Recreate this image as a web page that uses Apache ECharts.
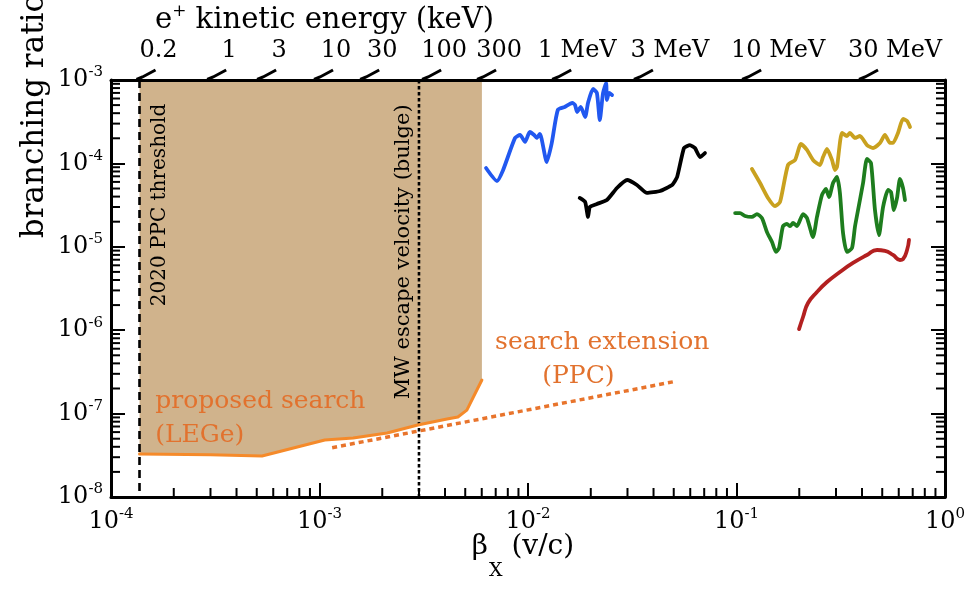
<!DOCTYPE html>
<html>
<head>
<meta charset="utf-8">
<script src="https://cdn.jsdelivr.net/npm/echarts@6/dist/echarts.min.js"></script>
<style>
  html, body { margin: 0; padding: 0; background: #ffffff; }
  #chart { width: 972px; height: 589px; }
</style>
</head>
<body>
<div id="chart"></div>
<script>
// Axis ranges: velocity beta_X (v/c) and branching ratio
const X_MIN = 1e-4, X_MAX = 1;
const Y_MIN = 1e-8, Y_MAX = 1e-3;

// Existing limits
const blueBeta = [6.29e-3, 7.10e-3, 7.59e-3, 8.67e-3, 9.16e-3, 9.68e-3, 1.02e-2, 1.07e-2, 1.10e-2, 1.14e-2,
                  1.23e-2, 1.30e-2, 1.39e-2, 1.50e-2, 1.63e-2, 1.68e-2, 1.72e-2, 1.79e-2, 1.88e-2, 1.94e-2,
                  2.05e-2, 2.14e-2, 2.21e-2, 2.29e-2, 2.37e-2, 2.39e-2, 2.45e-2, 2.53e-2];
const blueBR   = [8.8e-5, 6.15e-5, 8.3e-5, 2.02e-4, 2.19e-4, 1.81e-4, 2.38e-4, 2.19e-4, 2.02e-4, 2.26e-4,
                  1.04e-4, 1.76e-4, 4.37e-4, 4.75e-4, 5.30e-4, 5.02e-4, 4.13e-4, 4.75e-4, 3.60e-4, 5.30e-4,
                  7.80e-4, 6.98e-4, 3.31e-4, 6.98e-4, 9.2e-4, 5.76e-4, 6.98e-4, 6.61e-4];

const blackBeta = [1.77e-2, 1.88e-2, 1.94e-2, 1.98e-2, 2.14e-2, 2.39e-2, 2.67e-2, 2.99e-2, 3.33e-2,
                   3.72e-2, 4.30e-2, 4.91e-2, 5.19e-2, 5.60e-2, 5.98e-2, 6.32e-2, 6.68e-2, 7.06e-2];
const blackBR   = [3.85e-5, 3.44e-5, 2.28e-5, 3.0e-5, 3.26e-5, 3.64e-5, 5.07e-5, 6.32e-5, 5.51e-5,
                   4.42e-5, 4.67e-5, 5.51e-5, 6.87e-5, 1.53e-4, 1.66e-4, 1.53e-4, 1.19e-4, 1.33e-4];

const goldBeta = [0.1186, 0.1297, 0.1416, 0.1530, 0.1617, 0.1766, 0.1909, 0.2038, 0.2178, 0.2328,
                  0.2513, 0.2600, 0.2716, 0.2871, 0.2966, 0.3034, 0.3207, 0.3388, 0.3499, 0.3698,
                  0.3908, 0.4224, 0.4516, 0.4877, 0.5153, 0.5445, 0.5632, 0.5951, 0.6289, 0.6577, 0.6795];
const goldBR   = [8.57e-5, 5.82e-5, 3.85e-5, 3.08e-5, 3.44e-5, 9.57e-5, 1.10e-4, 1.71e-4, 1.45e-4, 1.10e-4,
                  9.57e-5, 1.19e-4, 1.49e-4, 1.10e-4, 8.33e-5, 9.06e-5, 2.32e-4, 2.13e-4, 2.32e-4, 2.02e-4,
                  2.13e-4, 1.66e-4, 1.53e-4, 1.76e-4, 2.19e-4, 1.76e-4, 1.76e-4, 2.32e-4, 3.41e-4, 3.22e-4, 2.73e-4];

const greenBeta = [0.0985, 0.1040, 0.1099, 0.1186, 0.1253, 0.1325, 0.1400, 0.1480, 0.1546, 0.1600,
                   0.1671, 0.1746, 0.1807, 0.1867, 0.1950, 0.2085, 0.2178, 0.2328, 0.2432, 0.2570,
                   0.2686, 0.2779, 0.2904, 0.3034, 0.3133, 0.3243, 0.3388, 0.3581, 0.3698, 0.3828,
                   0.4046, 0.4224, 0.4416, 0.4614, 0.4822, 0.5045, 0.5333, 0.5508, 0.5690, 0.5888,
                   0.6081, 0.6289, 0.6427];
const greenBR   = [2.54e-5, 2.54e-5, 2.34e-5, 2.28e-5, 2.47e-5, 2.21e-5, 1.50e-5, 1.14e-5, 8.67e-6, 9.68e-6,
                   1.77e-5, 1.88e-5, 1.77e-5, 1.93e-5, 1.77e-5, 2.47e-5, 2.21e-5, 1.31e-5, 2.28e-5, 4.18e-5,
                   4.93e-5, 3.95e-5, 5.82e-5, 6.87e-5, 4.42e-5, 1.46e-5, 8.67e-6, 9.68e-6, 1.73e-5, 2.76e-5,
                   5.82e-5, 1.13e-4, 1.01e-4, 2.76e-5, 1.38e-5, 3.0e-5, 4.80e-5, 4.54e-5, 2.76e-5, 3.85e-5,
                   6.50e-5, 5.07e-5, 3.64e-5];

const redBeta = [0.1995, 0.2085, 0.2203, 0.2432, 0.2716, 0.3133, 0.3620, 0.4224, 0.4720, 0.5153,
                 0.5632, 0.6081, 0.6289, 0.6577, 0.6720];
const redBR   = [1.03e-6, 1.44e-6, 2.12e-6, 2.87e-6, 3.78e-6, 4.99e-6, 6.40e-6, 7.98e-6, 9.16e-6, 8.95e-6,
                 7.98e-6, 6.95e-6, 7.12e-6, 9.16e-6, 1.21e-5];

// Proposed search (LEGe) and its PPC extension
const legeBeta = [1.37e-4, 3.0e-4, 5.30e-4, 1.06e-3, 1.45e-3, 2.11e-3, 2.96e-3, 4.09e-3, 4.61e-3, 5.09e-3, 5.44e-3, 6.01e-3];
const legeBR   = [3.28e-8, 3.22e-8, 3.10e-8, 4.82e-8, 5.09e-8, 5.85e-8, 7.30e-8, 8.61e-8, 9.1e-8, 1.10e-7, 1.54e-7, 2.53e-7];
const ppcBeta = [1.15e-3, 4.95e-2];
const ppcBR   = [3.9e-8, 2.4e-7];

// Reference velocities
const thresholdBeta = 1.37e-4;   // 2020 PPC threshold
const escapeBeta = 3.0e-3;       // MW escape velocity (bulge)
const guideBeta = [thresholdBeta, escapeBeta];
const guideLabelBR = [3.17e-5, 8.7e-6];
const guideLabels = ['2020 PPC threshold', 'MW escape velocity (bulge)'];

// Positron kinetic energy scale along the top edge
const energyBeta = [1.37e-4, 2.99e-4, 5.19e-4, 9.73e-4, 1.62e-3, 3.21e-3, 5.89e-3, 1.35e-2, 3.33e-2, 0.110, 0.400];
const energyLabels = ['0.2', '1', '3', '10', '30', '100', '300', '1 MeV', '3 MeV', '10 MeV', '30 MeV'];

// Annotation anchors
const noteBeta = [1.63e-4, 1.63e-4, 6.95e-3, 1.745e-2];
const noteBR = [1.38e-7, 5.46e-8, 7.03e-7, 2.75e-7];
const noteText = ['proposed search', '(LEGe)', 'search extension', '(PPC)'];

// Log tick layout
const xDecades = [-4, -3, -2, -1];
const yDecades = [-8, -7, -6, -5, -4];
const minorSteps = [2, 3, 4, 5, 6, 7, 8, 9];

const FONT = '"DejaVu Serif", "Liberation Serif", serif';
const ORANGE_LINE = '#F58A2A';
const ORANGE_TEXT = '#E2722E';

const zip = (a, b) => a.map((v, i) => [v, b[i]]);

const minorTickData = [];
xDecades.forEach(d => minorSteps.forEach(m => minorTickData.push([m * Math.pow(10, d), Y_MIN, 0])));
yDecades.forEach(d => minorSteps.forEach(m => {
  minorTickData.push([X_MIN, m * Math.pow(10, d), 1]);
  minorTickData.push([X_MAX, m * Math.pow(10, d), 2]);
}));

const powLabel = v => '{b|10}{s|' + Math.round(Math.log10(v)) + '}';
const powRich = {
  b: { fontSize: 24, fontFamily: FONT, color: '#000', lineHeight: 30 },
  s: { fontSize: 15, fontFamily: FONT, color: '#000', lineHeight: 15, verticalAlign: 'top' }
};

// Horizontal shift of each energy label from the foot of its slanted tick
function energyLabelShift(label) {
  if (label === '1 MeV') return 22;
  return label.indexOf('MeV') >= 0 ? 33 : 19;
}

const chart = echarts.init(document.getElementById('chart'), null, { renderer: 'canvas' });

function curve(name, beta, br, color, width, smooth) {
  return {
    name, type: 'line', data: zip(beta, br), showSymbol: false, smooth: smooth, z: 4,
    lineStyle: { color, width, cap: 'round', join: 'round' }
  };
}

const option = {
  animation: false,
  backgroundColor: '#ffffff',
  grid: { left: 111, right: 27, top: 80, bottom: 92, outerBoundsMode: 'none' },
  xAxis: [
    {
      type: 'log', logBase: 10, min: X_MIN, max: X_MAX, position: 'bottom', z: 10,
      axisLine: { show: true, onZero: false, lineStyle: { color: '#000', width: 3 } },
      axisTick: { show: true, inside: true, length: 14, lineStyle: { color: '#000', width: 2 } },
      axisLabel: { margin: 10, formatter: powLabel, rich: powRich },
      splitLine: { show: false }
    },
    {
      type: 'log', logBase: 10, min: X_MIN, max: X_MAX, position: 'top', z: 10,
      axisLine: { show: true, onZero: false, lineStyle: { color: '#000', width: 3 } },
      axisTick: { show: false }, axisLabel: { show: false }, splitLine: { show: false }
    }
  ],
  yAxis: [
    {
      type: 'log', logBase: 10, min: Y_MIN, max: Y_MAX, position: 'left', z: 10,
      axisLine: { show: true, onZero: false, lineStyle: { color: '#000', width: 3 } },
      axisTick: { show: true, inside: true, length: 14, lineStyle: { color: '#000', width: 2 } },
      axisLabel: { margin: 8, formatter: powLabel, rich: powRich },
      splitLine: { show: false }
    },
    {
      type: 'log', logBase: 10, min: Y_MIN, max: Y_MAX, position: 'right', z: 10,
      axisLine: { show: true, onZero: false, lineStyle: { color: '#000', width: 3 } },
      axisTick: { show: true, inside: true, length: 14, lineStyle: { color: '#000', width: 2 } },
      axisLabel: { show: false }, splitLine: { show: false }
    }
  ],
  graphic: [
    {
      type: 'text', x: 155, y: 20, silent: true,
      style: {
        text: '{m|e}{sup|+}{m| kinetic energy (keV)}',
        align: 'left', verticalAlign: 'middle',
        rich: {
          m: { fontSize: 29, fontFamily: FONT, fill: '#000', color: '#000', lineHeight: 34 },
          sup: { fontSize: 17, fontFamily: FONT, fill: '#000', color: '#000', lineHeight: 17, verticalAlign: 'top' }
        }
      }
    },
    {
      type: 'text', x: 35, y: 116, rotation: Math.PI / 2, silent: true,
      style: {
        text: 'branching ratio', fontSize: 31, fontFamily: FONT, fill: '#000',
        align: 'center', verticalAlign: 'middle'
      }
    },
    {
      type: 'text', x: 523, y: 533, silent: true,
      style: {
        text: '{g|β}{sub|X}{g| (v/c)}',
        align: 'center', verticalAlign: 'top',
        rich: {
          g: { fontSize: 28, fontFamily: FONT, fill: '#000', color: '#000', lineHeight: 36, verticalAlign: 'top' },
          sub: { fontSize: 19, fontFamily: FONT, fill: '#000', color: '#000', lineHeight: 19, padding: [29, 0, 0, 1], verticalAlign: 'top' }
        }
      }
    }
  ],
  series: [
    // Region covered by the proposed search
    {
      type: 'custom', name: 'proposed region', silent: true, z: 1, data: [[legeBeta[0], legeBR[0]]],
      renderItem(params, api) {
        const pts = [api.coord([thresholdBeta, Y_MAX]), api.coord([thresholdBeta, legeBR[0]])];
        for (let i = 1; i < legeBeta.length; i++) pts.push(api.coord([legeBeta[i], legeBR[i]]));
        pts.push(api.coord([legeBeta[legeBeta.length - 1], Y_MAX]));
        return { type: 'polygon', shape: { points: pts }, style: { fill: '#D0B38C', stroke: null } };
      }
    },
    // Threshold and escape-velocity guide lines with their labels
    {
      type: 'custom', name: 'guides', silent: true, z: 2, data: zip(guideBeta, guideLabelBR),
      renderItem(params, api) {
        const i = params.dataIndex;
        const top = api.coord([api.value(0), Y_MAX]);
        const bot = api.coord([api.value(0), Y_MIN]);
        const lab = api.coord([api.value(0), api.value(1)]);
        const dash = i === 0 ? [8, 5] : [3.5, 2.5];
        const dx = i === 0 ? 20 : -15;
        return {
          type: 'group', children: [
            { type: 'line', shape: { x1: top[0], y1: top[1], x2: bot[0], y2: bot[1] },
              style: { stroke: '#000', lineWidth: 2.6, lineDash: dash } },
            { type: 'text', x: lab[0] + dx, y: lab[1], rotation: Math.PI / 2,
              style: { text: guideLabels[i], fontSize: i === 0 ? 20 : 21, fontFamily: FONT, fill: '#000',
                       align: 'center', verticalAlign: 'middle', textAlign: 'center', textVerticalAlign: 'middle' } }
          ]
        };
      }
    },
    // Minor log ticks on the frame
    {
      type: 'custom', name: 'minor ticks', silent: true, z: 3, data: minorTickData,
      renderItem(params, api) {
        const p = api.coord([api.value(0), api.value(1)]);
        const side = api.value(2);
        const L = 9;
        let x2 = p[0], y2 = p[1];
        if (side === 0) y2 -= L; else if (side === 1) x2 += L; else x2 -= L;
        return { type: 'line', shape: { x1: p[0], y1: p[1], x2, y2 }, style: { stroke: '#000', lineWidth: 2 } };
      }
    },
    // Positron kinetic energy scale
    {
      type: 'custom', name: 'energy scale', silent: true, z: 6, data: energyBeta.map(b => [b, Y_MAX]),
      renderItem(params, api) {
        const p = api.coord([api.value(0), api.value(1)]);
        const label = energyLabels[params.dataIndex];
        const dx = energyLabelShift(label);
        return {
          type: 'group', children: [
            { type: 'polyline', shape: { points: [[p[0] - 3, p[1] - 0.5], [p[0] + 3, p[1] - 3], [p[0] + 16, p[1] - 10]] },
              style: { stroke: '#000', lineWidth: 3, fill: null } },
            { type: 'text', x: p[0] + dx, y: p[1] - 29,
              style: { text: label, fontSize: 24, fontFamily: FONT, fill: '#000',
                       align: 'center', verticalAlign: 'middle', textAlign: 'center', textVerticalAlign: 'middle' } }
          ]
        };
      }
    },
    curve('LEGe', legeBeta, legeBR, ORANGE_LINE, 3, false),
    {
      name: 'PPC extension', type: 'line', data: zip(ppcBeta, ppcBR), showSymbol: false, z: 4,
      lineStyle: { color: '#E8742C', width: 3.5, type: [5, 4], cap: 'butt' }
    },
    curve('blue', blueBeta, blueBR, '#2158F0', 3.8, 0.2),
    curve('black', blackBeta, blackBR, '#000000', 3.8, 0.15),
    curve('gold', goldBeta, goldBR, '#C9A11F', 3.8, 0.2),
    curve('green', greenBeta, greenBR, '#1E7D1E', 3.8, 0.2),
    curve('red', redBeta, redBR, '#B32020', 3.8, 0.5),
    // Orange annotations
    {
      type: 'custom', name: 'notes', silent: true, z: 5, data: zip(noteBeta, noteBR),
      renderItem(params, api) {
        const p = api.coord([api.value(0), api.value(1)]);
        const i = params.dataIndex;
        const align = i === 3 ? 'center' : 'left';
        return {
          type: 'text', x: p[0], y: p[1],
          style: { text: noteText[i], fontSize: 25, fontFamily: FONT, fill: ORANGE_TEXT,
                   align, verticalAlign: 'middle', textAlign: align, textVerticalAlign: 'middle' }
        };
      }
    }
  ]
};

chart.setOption(option);
</script>
</body>
</html>
